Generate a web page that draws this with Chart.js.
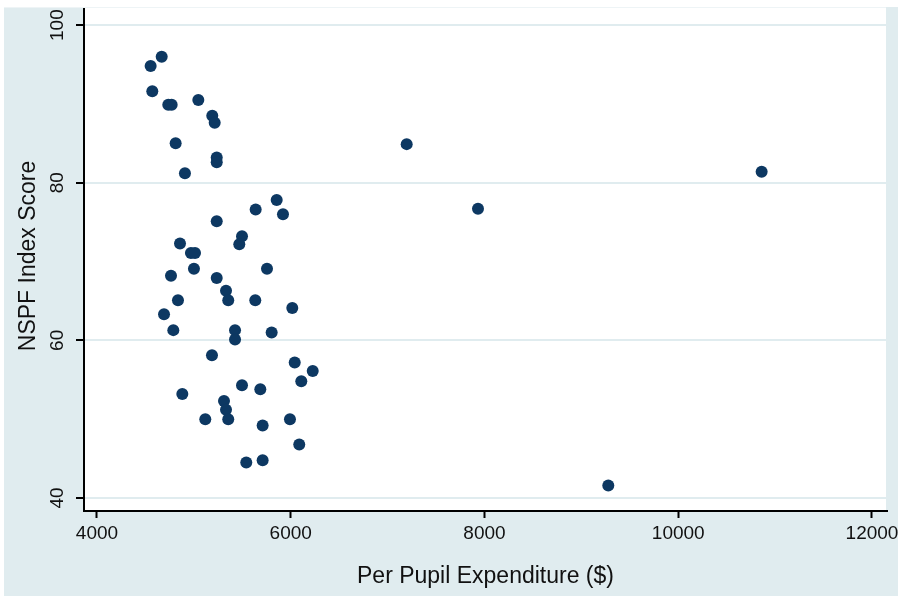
<!DOCTYPE html>
<html>
<head>
<meta charset="utf-8">
<script src="https://cdn.jsdelivr.net/npm/chart.js"></script>
<style>
  html, body { margin: 0; padding: 0; background: #ffffff; }
  #c { display: block; }
</style>
</head>
<body>
<canvas id="c" width="898" height="597"></canvas>
<script>
// Per pupil expenditure ($)
const expenditure = [
  4668, 4554, 4571, 4736, 4771, 5046, 5190, 5215, 4812, 5236,
  5236, 4908, 5855, 5638, 5920, 5236, 5497, 5469, 4857, 4970,
  5012, 5001, 5755, 4764, 5236, 5332, 5355, 4836, 5634, 6016,
  4692, 4788, 5425, 5425, 5803, 5187, 6041, 6227, 6109, 5497,
  5686, 4881, 5311, 5332, 5118, 5355, 5992, 5710, 6088, 5541,
  5710, 7197, 7933, 10861, 9278
];
// NSPF index score
const nspfScore = [
  96.0, 94.8, 91.6, 89.9, 89.9, 90.5, 88.5, 87.6, 85.0, 83.2,
  82.6, 81.2, 77.8, 76.6, 76.0, 75.1, 73.2, 72.2, 72.3, 71.1,
  71.1, 69.1, 69.1, 68.2, 67.9, 66.3, 65.1, 65.1, 65.1, 64.1,
  63.3, 61.3, 61.3, 60.1, 61.0, 58.1, 57.2, 56.1, 54.8, 54.3,
  53.8, 53.2, 52.3, 51.2, 50.0, 50.0, 50.0, 49.2, 46.8, 44.5,
  44.8, 84.9, 76.7, 81.4, 41.6
];
const xTicks = [4000, 6000, 8000, 10000, 12000];
const yTicks = [40, 60, 80, 100];
const xTitle = "Per Pupil Expenditure ($)";
const yTitle = "NSPF Index Score";

const BG = '#e0ecef';
const FONT = '"Liberation Sans", Arial, Helvetica, sans-serif';

const points = expenditure.map((x, i) => ({ x: x, y: nspfScore[i] }));

const bgPlugin = {
  id: 'bg',
  beforeDraw(chart) {
    const ctx = chart.ctx;
    const a = chart.chartArea;
    ctx.save();
    ctx.fillStyle = '#ffffff';
    ctx.fillRect(0, 0, chart.width, chart.height);
    ctx.fillStyle = BG;
    ctx.fillRect(4, 7, chart.width - 4, 589);
    ctx.fillStyle = '#ffffff';
    ctx.fillRect(Math.floor(a.left), Math.floor(a.top),
                 Math.ceil(a.right) - Math.floor(a.left), Math.ceil(a.bottom) - Math.floor(a.top));
    ctx.restore();
  },
  afterDraw(chart) {
    const ctx = chart.ctx;
    const ys = chart.scales.y;
    const xs = chart.scales.x;
    const a = chart.chartArea;
    ctx.save();
    // clean right strip and top margin
    ctx.fillStyle = BG;
    ctx.fillRect(886, 7, chart.width - 886, 503);
    ctx.fillStyle = '#ffffff';
    ctx.fillRect(0, 0, chart.width, 7);
    ctx.fillStyle = '#eef4f6';
    ctx.fillRect(4, 7, 882, 1);

    ctx.fillStyle = '#111111';
    ctx.font = '19px ' + FONT;
    ctx.textAlign = 'center';
    ctx.textBaseline = 'alphabetic';
    ys.ticks.forEach(t => {
      const py = ys.getPixelForValue(t.value);
      ctx.save();
      ctx.translate(63, py);
      ctx.rotate(-Math.PI / 2);
      ctx.fillText(String(t.value), 0, 0);
      ctx.restore();
    });
    xs.ticks.forEach(t => {
      const px = xs.getPixelForValue(t.value);
      ctx.fillText(String(t.value), px, 539);
    });
    ctx.font = '23px ' + FONT;
    ctx.save();
    ctx.translate(35, (a.top + a.bottom) / 2 - 3);
    ctx.rotate(-Math.PI / 2);
    ctx.fillText(yTitle, 0, 0);
    ctx.restore();
    ctx.fillText(xTitle, (a.left + a.right) / 2, 583);
    ctx.restore();
  }
};

new Chart(document.getElementById('c'), {
  type: 'scatter',
  data: {
    datasets: [{
      data: points,
      backgroundColor: '#0d3862',
      borderColor: '#0d3862',
      borderWidth: 0,
      pointRadius: 6,
      pointHoverRadius: 6
    }]
  },
  options: {
    responsive: false,
    animation: false,
    devicePixelRatio: 1,
    layout: { padding: { top: 7, right: 11, left: 0, bottom: 0 } },
    plugins: {
      legend: { display: false },
      tooltip: { enabled: false }
    },
    scales: {
      x: {
        type: 'linear',
        min: 3866,
        max: 12155,
        afterBuildTicks(s) { s.ticks = xTicks.map(v => ({ value: v })); },
        afterFit(s) { s.height = 86; },
        grid: { drawOnChartArea: false, tickColor: '#000', tickLength: 7, tickWidth: 2 },
        border: { color: '#000', width: 2 },
        ticks: {
          color: 'rgba(0,0,0,0)',
          font: { family: FONT, size: 1 },
          maxRotation: 0
        }
      },
      y: {
        type: 'linear',
        min: 38.35,
        max: 102.3,
        afterBuildTicks(s) { s.ticks = yTicks.map(v => ({ value: v })); },
        afterFit(s) { s.width = 84; },
        grid: { color: BG, lineWidth: 2, tickColor: '#000', tickLength: 8, tickWidth: 2 },
        border: { color: '#000', width: 2 },
        ticks: { color: 'rgba(0,0,0,0)', font: { family: FONT, size: 1 } }
      }
    }
  },
  plugins: [bgPlugin]
});
</script>
</body>
</html>
